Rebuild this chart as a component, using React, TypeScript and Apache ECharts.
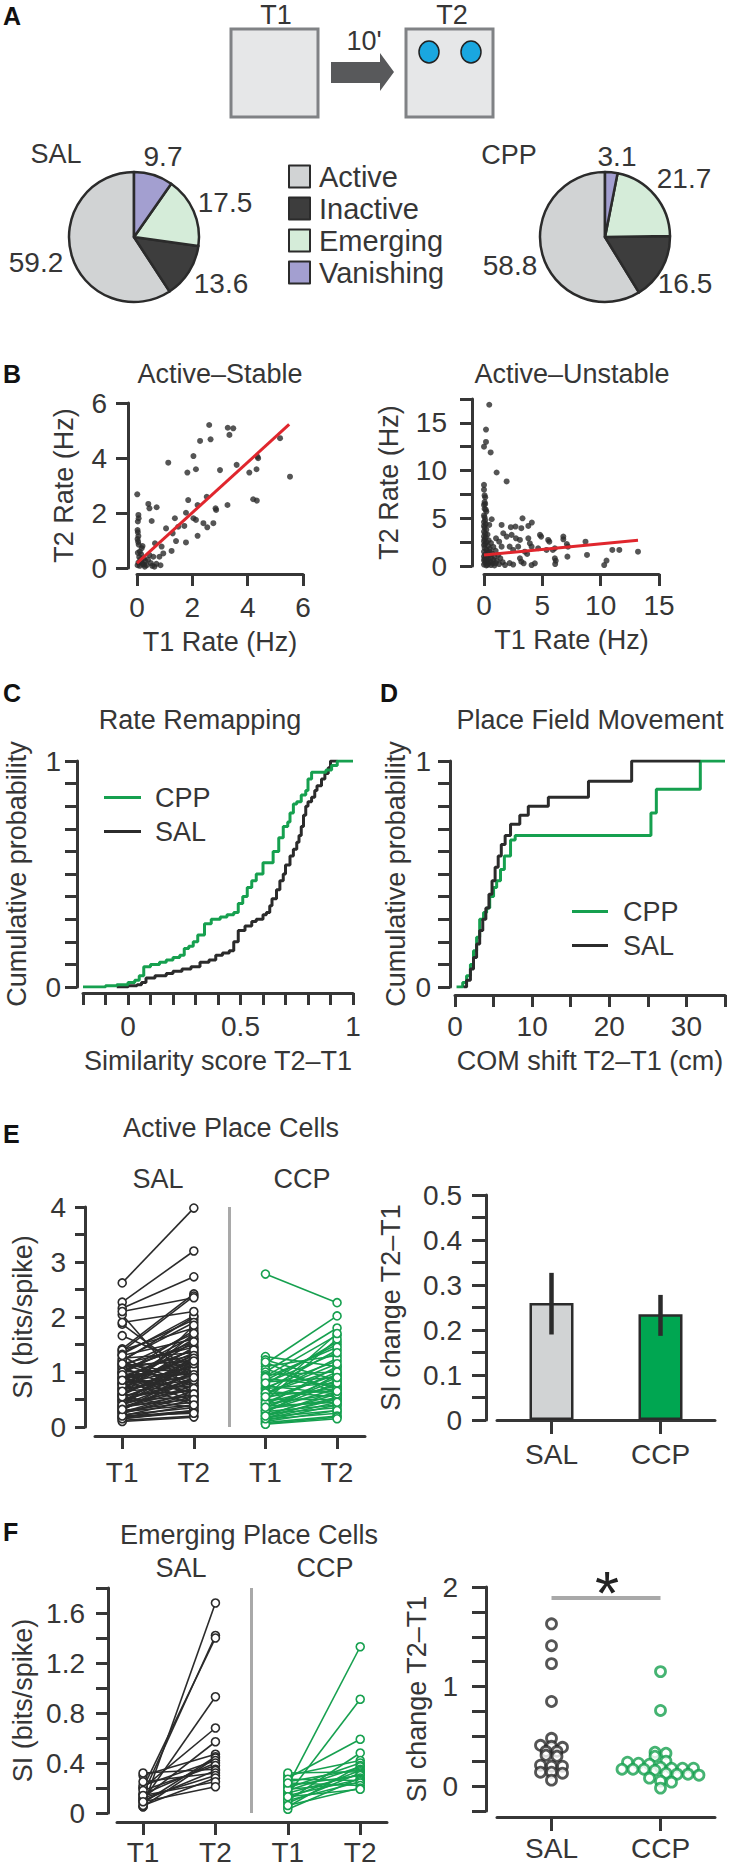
import { useEffect, useRef } from 'react';
import * as echarts from 'echarts';

// ---------------- Data ----------------
const pieCategories = ['Active', 'Inactive', 'Emerging', 'Vanishing'];
const pieColors = ['#d1d3d4', '#3d3d3d', '#d5ecd9', '#a39fd0'];
const pieSAL = [59.2, 13.6, 17.5, 9.7];
const pieCPP = [58.8, 16.5, 21.7, 3.1];

const stableT1 = [2.61,3.28,3.48,3.34,2.66,2.28,5.17,1.13,2.04,1.82,2.13,3.0,3.6,4.06,4.32,4.35,4.38,5.53,0.01,0.41,0.45,0.71,1.85,2.52,2.19,2.84,2.86,3.27,4.2,4.33,0.05,0.06,0.03,0.53,1.37,1.77,2.04,2.13,2.4,2.54,2.76,1.71,1.49,1.05,1.29,2.19,0.02,0.03,0.05,1.41,1.77,0.65,0.89,0.2,0.17,0.95,0.81,1.25,0.45,0.59,0.63,0.02,0.04,0.06,0.1,0.03,0.15,0.08,0.25,0.12,0.3,0.05,0.2,0.35,0.1,0.5,0.4,0.7,0.02,0.28,0.15,0.25,0.55,0.85];
const stableT2 = [5.2,5.1,5.08,4.84,4.68,4.62,4.72,3.83,4.07,3.47,3.59,3.56,3.75,3.47,3.59,4.05,3.99,3.32,2.68,2.33,2.17,2.21,2.47,2.59,2.29,2.17,2.11,2.29,2.5,2.45,1.93,1.81,1.69,1.71,1.81,2.01,1.81,1.75,1.63,1.48,1.63,1.53,1.5,1.44,1.26,1.17,1.38,1.3,1.16,0.98,0.93,0.9,0.78,0.8,0.72,0.53,0.41,0.62,0.47,0.41,0.05,1.05,0.95,0.85,0.6,0.55,0.5,0.4,0.35,0.3,0.25,0.2,0.15,0.1,0.08,0.18,0.3,0.15,0.1,0.05,0.22,0.12,0.08,0.1];
const stableFitT1 = [0, 5.5];
const stableFitT2 = [0.18, 5.22];

const unstableT1 = [0.45,0.17,0.17,0,0.57,1.08,1.94,0,0,0.05,0.1,0.05,0.1,0,0.05,0.15,0.2,0.66,0.45,1.51,2.3,2.7,3.2,3.3,3.8,4.1,1.65,1.94,2.37,1.03,1.3,2.74,3.08,3.8,4.8,4.9,5.5,5.6,6.8,6.8,8.7,7.2,7.1,6.07,5.9,4.64,5.36,3.93,4.08,2.93,3.5,3.7,2.2,2.5,1.51,6.07,6.15,7.15,8.83,10.5,11.0,11.6,13.2,4.36,4.08,3.08,3.2,3.4,10.3,6.1,0,0.05,0.1,0,0.15,0,0.05,0.2,0,0.1,0.3,0,0.15,0.05,0.4,0,0.2,0.6,0.1,0,0.35,0.8,0.05,0.5,0.2,1.0,0,0.3,0.7,0.1,1.2,0.45,0,0.9,0.2,0.6,1.4,0.05,0.35,0.8,0,1.1,0.25,0.55,1.6,0.1,0.75,0.4,1.3,0,0.6,0.2,1.8,0.9,2.2,2.5,1.0,0.3,0.15,0.5];
const unstableT2 = [16.9,14.3,13.0,12.5,11.9,9.8,8.86,8.5,8.0,7.4,7.2,6.7,6.5,6.4,6.0,5.9,5.7,4.9,4.3,4.3,4.07,4.13,3.96,5.0,4.2,4.55,3.43,3.08,3.26,2.9,2.55,2.9,2.73,2.9,3.26,3.08,2.73,2.55,3.08,2.8,2.55,2.03,2.3,1.86,1.68,1.86,1.68,2.38,2.03,2.03,1.5,1.26,2.03,1.68,2.03,0.8,0.55,0.98,1.16,0.56,1.68,1.68,1.5,0.28,0.1,0.8,0.45,0.28,0.1,0.2,5.3,5.1,4.8,4.6,4.4,4.2,4.0,3.8,3.6,3.4,3.3,3.1,3.0,2.8,2.7,2.6,2.5,2.4,2.3,2.2,2.1,2.0,1.9,1.8,1.7,1.6,1.5,1.4,1.3,1.2,1.15,1.1,1.0,0.95,0.9,0.85,0.8,0.75,0.7,0.65,0.6,0.55,0.5,0.45,0.4,0.35,0.3,0.25,0.2,0.15,0.1,0.05,0.1,0.05,0.3,0.15,0.3,0.12,0.6,1.5];
const unstableFitT1 = [0, 13.2];
const unstableFitT2 = [1.15, 2.7];

// C: rate remapping CDFs
const rateCppX = [-0.2,-0.1,-0.05,0.0,0.03,0.05,0.07,0.1,0.14,0.17,0.2,0.23,0.25,0.27,0.29,0.31,0.34,0.37,0.41,0.44,0.47,0.49,0.51,0.53,0.55,0.57,0.6,0.62,0.645,0.67,0.69,0.71,0.72,0.735,0.75,0.77,0.79,0.8,0.816,0.84,0.88,0.905,0.93,1.0];
const rateCppP = [0,0.005,0.01,0.02,0.03,0.05,0.09,0.1,0.11,0.12,0.13,0.14,0.17,0.18,0.2,0.23,0.28,0.3,0.31,0.32,0.33,0.37,0.4,0.44,0.47,0.5,0.55,0.55,0.6,0.66,0.71,0.73,0.77,0.81,0.82,0.85,0.87,0.92,0.95,0.95,0.96,0.98,1.0,1.0];
const rateSalX = [-0.05,0.0,0.04,0.06,0.08,0.12,0.17,0.2,0.24,0.28,0.32,0.36,0.39,0.42,0.45,0.47,0.49,0.52,0.55,0.57,0.6,0.615,0.63,0.64,0.66,0.675,0.69,0.7,0.72,0.735,0.75,0.76,0.77,0.78,0.79,0.8,0.816,0.83,0.84,0.86,0.875,0.89,0.9,0.93];
const rateSalP = [0,0.005,0.01,0.02,0.04,0.05,0.06,0.07,0.08,0.09,0.11,0.12,0.14,0.15,0.16,0.2,0.25,0.27,0.29,0.3,0.32,0.33,0.36,0.39,0.43,0.47,0.5,0.54,0.58,0.61,0.64,0.67,0.71,0.76,0.8,0.82,0.84,0.87,0.89,0.92,0.945,0.97,1.0,1.0];

// D: place field movement CDFs
const comCppX = [0.2,1.0,1.5,2.0,2.4,2.8,3.2,3.7,4.1,4.5,5.0,5.4,5.9,6.4,7.2,7.8,25.4,26.1,31.8,35];
const comCppP = [0,0.02,0.05,0.1,0.16,0.22,0.3,0.33,0.35,0.4,0.44,0.47,0.52,0.58,0.65,0.67,0.77,0.875,1.0,1.0];
const comSalX = [1.1,1.5,2.0,2.4,2.8,3.2,3.6,4.0,4.4,4.8,5.2,5.6,6.0,6.5,7.2,8.4,9.5,12.1,17.3,22.9,31.8];
const comSalP = [0,0.03,0.08,0.13,0.19,0.25,0.3,0.35,0.41,0.47,0.53,0.58,0.63,0.67,0.72,0.76,0.8,0.84,0.91,1.0,1.0];

// E: active place cells, SI T1 -> T2
const activeSalT1 = [2.62,2.27,2.16,2.04,1.87,1.66,1.42,1.38,1.35,1.3,1.25,1.2,1.18,1.15,1.12,1.1,1.08,1.05,1.02,1.0,0.98,0.95,0.92,0.9,0.88,0.85,0.82,0.8,0.78,0.75,0.72,0.7,0.68,0.65,0.62,0.6,0.58,0.55,0.52,0.5,0.48,0.45,0.42,0.4,0.38,0.35,0.33,0.3,0.28,0.25,0.22,0.2,0.18,0.15,0.12,0.1,1.4,1.32,1.22,1.14,1.06,0.97,0.87,0.77,0.67,0.57,0.47,0.37,0.27,0.17,2.1,1.9,0.55,0.3,0.9,0.7,0.5,0.35,0.25,1.0,0.8,0.6,0.45,0.15,1.15,0.95,0.75,0.55,0.4,0.2,1.3,0.65,0.85,0.32];
const activeSalT2 = [3.98,3.2,2.73,0.55,0.9,1.1,2.42,2.38,1.95,1.6,1.35,2.0,0.8,1.45,1.2,1.7,0.6,1.3,1.55,1.05,1.75,0.95,1.4,1.15,0.7,1.25,1.6,0.9,1.1,1.0,1.3,0.85,1.45,0.75,1.05,1.2,0.65,0.95,1.1,0.8,0.55,1.0,0.7,0.9,0.5,0.6,0.85,0.45,0.4,0.55,0.35,0.5,0.3,0.28,0.2,0.18,1.8,2.02,1.9,0.75,1.5,1.65,1.2,1.35,0.95,1.25,1.15,0.75,0.65,0.4,2.35,2.1,1.85,1.02,1.4,1.05,0.85,0.7,0.6,0.45,1.3,1.15,1.25,0.3,0.95,0.6,1.55,0.35,1.2,0.25,0.5,1.7,0.4,0.9];
const activeCcpT1 = [2.78,1.28,1.22,1.15,1.1,1.05,1.0,0.95,0.92,0.88,0.85,0.82,0.78,0.75,0.72,0.7,0.68,0.65,0.62,0.6,0.58,0.55,0.52,0.5,0.48,0.45,0.42,0.4,0.38,0.35,0.33,0.3,0.28,0.26,0.24,0.22,0.2,0.18,0.16,0.14,0.12,0.1,0.08,0.06,0.05,0.9,0.62,0.44,0.3,0.15,1.18,0.8,0.55,0.36,0.2];
const activeCcpT2 = [2.26,1.1,0.85,2.02,1.3,0.7,1.8,1.0,1.67,0.75,1.5,0.9,1.55,0.6,1.2,0.8,1.4,0.55,1.05,0.65,1.25,0.7,0.95,0.5,1.6,0.75,0.6,1.1,0.45,0.85,0.5,0.7,0.4,0.95,0.35,0.6,0.5,0.3,0.55,0.25,0.4,0.3,0.2,0.18,0.15,1.45,1.15,1.0,0.8,0.45,0.6,1.35,1.7,0.9,0.65];

const groups = ['SAL', 'CCP'];
const siChangeMean = [0.26, 0.235];
const siChangeLow = [0.19, 0.187];
const siChangeHigh = [0.327, 0.278];

// F: emerging place cells
const emergSalT1 = [0.05,0.15,0.2,0.1,0.2,0.12,0.3,0.08,0.05,0.22,0.15,0.18,0.32,0.1,0.25,0.12,0.06,0.14,0.09];
const emergSalT2 = [1.68,1.42,1.4,0.93,0.68,0.57,0.47,0.45,0.44,0.42,0.4,0.38,0.35,0.34,0.32,0.3,0.28,0.25,0.21];
const emergCcpT1 = [0.22,0.15,0.28,0.1,0.3,0.2,0.05,0.18,0.25,0.12,0.32,0.08,0.16,0.22,0.03,0.14,0.27,0.1,0.19,0.24,0.06,0.13];
const emergCcpT2 = [1.33,0.91,0.59,0.48,0.42,0.4,0.38,0.37,0.35,0.34,0.33,0.32,0.31,0.3,0.28,0.27,0.26,0.25,0.24,0.22,0.2,0.19];
const emergChangeSal = [1.63,1.41,1.23,0.85,0.48,0.41,0.4,0.39,0.35,0.35,0.31,0.3,0.21,0.2,0.2,0.14,0.14,0.13,0.06];
const emergChangeCcp = [1.15,0.76,0.34,0.33,0.3,0.25,0.24,0.23,0.22,0.19,0.18,0.18,0.18,0.17,0.17,0.17,0.16,0.13,0.12,0.12,0.11,0.08,0.05,0.04,-0.02];
const sigLevel = 1.89;

// ---------------- Styles ----------------
const FONT = '"Liberation Sans", Arial, Helvetica, sans-serif';
const TXT = '#363636';
const AX = '#363636';
const DARK = '#2b2b2b';
const GREEN = '#16a04f';
const RED = '#e0262d';

const fmtStep = (step: number) => (v: number) => {
  const r = v / step;
  return Math.abs(r - Math.round(r)) < 1e-6 ? String(parseFloat(Number(v).toFixed(2))) : '';
};

// binned dot-plot: points whose values fall in the same bin are spread symmetrically in a row
function binnedOffsets(vals: number[], bin: number, step: number): number[] {
  const rows = new Map<number, number[]>();
  vals.forEach((v, i) => {
    const b = Math.round(v / bin);
    if (!rows.has(b)) rows.set(b, []);
    rows.get(b)!.push(i);
  });
  const out = new Array(vals.length).fill(0);
  rows.forEach((idx) => idx.forEach((i, j) => { out[i] = (j - (idx.length - 1) / 2) * step; }));
  return out;
}

function axis(gi: number, extra: any) {
  const base: any = {
    gridIndex: gi,
    axisLine: { show: true, onZero: false, lineStyle: { color: AX, width: 3 } },
    axisTick: { show: true, length: 12, lineStyle: { color: AX, width: 3 } },
    axisLabel: { color: TXT, fontSize: 28, fontFamily: FONT, margin: 18 },
    splitLine: { show: false },
    nameLocation: 'middle',
    nameTextStyle: { color: TXT, fontSize: 27, fontFamily: FONT },
  };
  const out: any = { ...base, ...extra };
  if (extra.axisLabel) out.axisLabel = { ...base.axisLabel, ...extra.axisLabel };
  if (extra.axisTick) out.axisTick = { ...base.axisTick, ...extra.axisTick };
  return out;
}

const txt = (text: string, x: number, y: number, o: any = {}) => ({
  type: 'text', x, y, silent: true,
  style: { text, fill: TXT, fontSize: 27, fontFamily: FONT, align: 'center', verticalAlign: 'middle', ...o },
});
const letter = (text: string, x: number, y: number) => txt(text, x, y, { fontSize: 25, fontWeight: 'bold', fill: '#111', align: 'left' });

function pairSeries(t1: number[], t2: number[], x0: number, gi: number, color: string, sep: boolean) {
  return t1.map((a, i) => {
    const s: any = {
      type: 'line', xAxisIndex: gi, yAxisIndex: gi, data: [[x0, a], [x0 + 1, t2[i]]],
      symbol: 'circle', symbolSize: 8, showSymbol: true, silent: true,
      lineStyle: { color, width: 1.6 }, itemStyle: { color: '#fff', borderColor: color, borderWidth: 1.6 },
    };
    if (sep && i === 0) {
      s.markLine = {
        silent: true, symbol: ['none', 'none'], label: { show: false },
        lineStyle: { color: '#a9a9a9', width: 3, type: 'solid' }, data: [{ xAxis: 1.5 }],
      };
    }
    return s;
  });
}

export default function App() {
  const ref = useRef<HTMLDivElement>(null);
  useEffect(() => {
    document.body.style.margin = '0';
    const chart = echarts.init(ref.current!, null, { renderer: 'svg' });

    const gridDefs = [
      { left: 137, top: 403, width: 166, height: 165 },
      { left: 484, top: 399, width: 175, height: 167 },
      { left: 83, top: 761, width: 270, height: 226 },
      { left: 455, top: 761, width: 270, height: 226 },
      { left: 95, top: 1207, width: 270, height: 220 },
      { left: 497, top: 1195, width: 218, height: 225 },
      { left: 117, top: 1588, width: 270, height: 225 },
      { left: 497, top: 1587, width: 218, height: 224 },
    ].map((g) => ({ ...g, containLabel: false, outerBoundsMode: 'none' }));

    const tt = ['T1', 'T2', 'T1', 'T2'];
    const xAxis = [
      axis(0, { type: 'value', min: 0, max: 6, interval: 2, offset: 6, name: 'T1 Rate (Hz)', nameGap: 54, axisLabel: { margin: 19 } }),
      axis(1, { type: 'value', min: 0, max: 15, interval: 5, offset: 8, name: 'T1 Rate (Hz)', nameGap: 52, axisLabel: { margin: 17 } }),
      axis(2, { type: 'value', min: -0.2, max: 1, interval: 0.1, offset: 6, name: 'Similarity score T2–T1', nameGap: 54, axisLabel: { margin: 19, formatter: fmtStep(0.5) } }),
      axis(3, { type: 'value', min: 0, max: 35, interval: 5, offset: 8, name: 'COM shift T2–T1 (cm)', nameGap: 52, axisLabel: { margin: 17, formatter: fmtStep(10) } }),
      axis(4, { type: 'value', min: -0.38, max: 3.39, offset: 9, axisTick: { customValues: [0, 1, 2, 3], length: 13 }, axisLabel: { customValues: [0, 1, 2, 3], margin: 22, formatter: (v: number) => tt[Math.round(v)] } }),
      axis(5, { type: 'category', data: groups, offset: 0, axisTick: { alignWithLabel: true, length: 14 }, axisLabel: { margin: 20 } }),
      axis(6, { type: 'value', min: -0.36, max: 3.37, offset: 9, axisTick: { customValues: [0, 1, 2, 3], length: 13 }, axisLabel: { customValues: [0, 1, 2, 3], margin: 16, formatter: (v: number) => tt[Math.round(v)] } }),
      axis(7, { type: 'category', data: groups, offset: 6, axisTick: { alignWithLabel: true, length: 14 }, axisLabel: { margin: 17 } }),
    ];
    const yAxis = [
      axis(0, { type: 'value', min: 0, max: 6, interval: 2, offset: 9, name: 'T2 Rate (Hz)', nameGap: 51, axisLabel: { margin: 21 } }),
      axis(1, { type: 'value', min: 0, max: 17.5, interval: 2.5, offset: 12, name: 'T2 Rate (Hz)', nameGap: 70, axisLabel: { margin: 25, formatter: fmtStep(5) } }),
      axis(2, { type: 'value', min: 0, max: 1, interval: 0.1, offset: 6, name: 'Cumulative probability', nameGap: 47, axisLabel: { margin: 16, formatter: fmtStep(1) } }),
      axis(3, { type: 'value', min: 0, max: 1, interval: 0.1, offset: 5, name: 'Cumulative probability', nameGap: 41, axisLabel: { margin: 19, formatter: fmtStep(1) } }),
      axis(4, { type: 'value', min: 0, max: 4, interval: 0.5, offset: 10, name: 'SI (bits/spike)', nameGap: 49, axisTick: { length: 10 }, axisLabel: { margin: 19, formatter: fmtStep(1) } }),
      axis(5, { type: 'value', min: 0, max: 0.5, interval: 0.05, offset: 11, name: 'SI change T2–T1', nameGap: 82, axisTick: { length: 14 }, axisLabel: { margin: 24, formatter: fmtStep(0.1) } }),
      axis(6, { type: 'value', min: 0, max: 1.8, interval: 0.2, offset: 9, name: 'SI (bits/spike)', nameGap: 72, axisLabel: { margin: 23, formatter: fmtStep(0.4) } }),
      axis(7, { type: 'value', min: -0.25, max: 2, interval: 0.25, offset: 11, name: 'SI change T2–T1', nameGap: 56, axisTick: { length: 14 }, axisLabel: { margin: 28, formatter: fmtStep(1) } }),
    ];

    const pie = (vals: number[], cx: number) => ({
      type: 'pie', center: [cx, 237], radius: 65, startAngle: 90, clockwise: false, silent: true,
      label: { show: false }, labelLine: { show: false },
      itemStyle: { borderColor: DARK, borderWidth: 2.5 },
      data: pieCategories.map((n, i) => ({ name: n, value: vals[i], itemStyle: { color: pieColors[i] } })),
    });

    const cdf = (xs: number[], ps: number[], gi: number, name: string, color: string) => ({
      type: 'line', name, xAxisIndex: gi, yAxisIndex: gi, step: 'end', showSymbol: false, symbol: 'none', silent: true,
      lineStyle: { color, width: 3 }, itemStyle: { color },
      data: xs.map((x, i) => [x, ps[i]]),
    });

    const salOff = binnedOffsets(emergChangeSal, 0.07, 11);
    const ccpOff = binnedOffsets(emergChangeCcp, 0.07, 11);

    const series: any[] = [
      pie(pieSAL, 134),
      pie(pieCPP, 605),
      { type: 'scatter', xAxisIndex: 0, yAxisIndex: 0, symbolSize: 6, silent: true, itemStyle: { color: DARK },
        data: stableT1.map((x, i) => [x, stableT2[i]]) },
      { type: 'line', xAxisIndex: 0, yAxisIndex: 0, showSymbol: false, symbol: 'none', silent: true, lineStyle: { color: RED, width: 3 },
        data: stableFitT1.map((x, i) => [x, stableFitT2[i]]) },
      { type: 'scatter', xAxisIndex: 1, yAxisIndex: 1, symbolSize: 6, silent: true, itemStyle: { color: DARK },
        data: unstableT1.map((x, i) => [x, unstableT2[i]]) },
      { type: 'line', xAxisIndex: 1, yAxisIndex: 1, showSymbol: false, symbol: 'none', silent: true, lineStyle: { color: RED, width: 3 },
        data: unstableFitT1.map((x, i) => [x, unstableFitT2[i]]) },
      cdf(rateSalX, rateSalP, 2, 'SAL', DARK),
      cdf(rateCppX, rateCppP, 2, 'CPP', GREEN),
      cdf(comCppX, comCppP, 3, 'CPP', GREEN),
      cdf(comSalX, comSalP, 3, 'SAL', DARK),
      ...pairSeries(activeSalT1, activeSalT2, 0, 4, DARK, true),
      ...pairSeries(activeCcpT1, activeCcpT2, 2, 4, GREEN, false),
      { type: 'bar', xAxisIndex: 5, yAxisIndex: 5, barWidth: 44, silent: true,
        itemStyle: { borderColor: DARK, borderWidth: 2.5 },
        data: siChangeMean.map((v, i) => ({ value: v, itemStyle: { color: i === 0 ? '#d1d3d4' : '#00a651' } })) },
      { type: 'custom', xAxisIndex: 5, yAxisIndex: 5, silent: true, z: 5, encode: { x: 0, y: [1, 2] },
        data: siChangeLow.map((lo, i) => [i, lo, siChangeHigh[i]]),
        renderItem: (_p: any, api: any) => {
          const a = api.coord([api.value(0), api.value(1)]);
          const b = api.coord([api.value(0), api.value(2)]);
          return { type: 'line', shape: { x1: a[0], y1: a[1], x2: b[0], y2: b[1] }, style: { stroke: DARK, lineWidth: 4.5 } };
        } },
      ...pairSeries(emergSalT1, emergSalT2, 0, 6, DARK, true),
      ...pairSeries(emergCcpT1, emergCcpT2, 2, 6, GREEN, false),
      { type: 'scatter', xAxisIndex: 7, yAxisIndex: 7, symbol: 'circle', symbolSize: 10, silent: true, z: 4,
        itemStyle: { color: '#fff', borderColor: DARK, borderWidth: 2.8 },
        data: emergChangeSal.map((v, i) => ({ value: [0, v], symbolOffset: [salOff[i], 0] })),
        markLine: { silent: true, symbol: ['none', 'none'], lineStyle: { color: '#a9a9a9', width: 4, type: 'solid' },
          label: { show: false }, data: [[{ coord: [0, sigLevel] }, { coord: [1, sigLevel] }]] } },
      { type: 'scatter', xAxisIndex: 7, yAxisIndex: 7, symbol: 'circle', symbolSize: 10, silent: true, z: 4,
        itemStyle: { color: '#fff', borderColor: GREEN, borderWidth: 2.8 },
        data: emergChangeCcp.map((v, i) => ({ value: [1, v], symbolOffset: [ccpOff[i], 0] })) },
    ];

    const legendText = { color: TXT, fontSize: 27, fontFamily: FONT };
    const legend = [
      { data: pieCategories, left: 283, top: 157, orient: 'vertical', icon: 'rect', itemWidth: 21, itemHeight: 22, itemGap: 3,
        selectedMode: false, itemStyle: { borderColor: DARK, borderWidth: 2 },
        textStyle: { ...legendText, fontSize: 29, padding: [0, 0, 0, 4] } },
      { data: ['CPP', 'SAL'], left: 99, top: 779, orient: 'vertical', icon: 'rect', itemWidth: 37, itemHeight: 3, itemGap: 7,
        selectedMode: false, textStyle: { ...legendText, padding: [0, 0, 0, 9] } },
      { data: ['CPP', 'SAL'], left: 567, top: 893, orient: 'vertical', icon: 'rect', itemWidth: 36, itemHeight: 3, itemGap: 7,
        selectedMode: false, textStyle: { ...legendText, padding: [0, 0, 0, 10] } },
    ];

    const pieLabelPosSAL = [[36, 262], [221, 283], [225, 202], [163, 156]];
    const pieLabelPosCPP = [[510, 265], [685, 283], [684, 178], [617, 156]];

    const graphic: any[] = [
      letter('A', 3, 16), letter('B', 3, 374), letter('C', 3, 693), letter('D', 380, 693), letter('E', 3, 1134), letter('F', 3, 1532),
      { type: 'rect', silent: true, shape: { x: 231, y: 29, width: 87, height: 88 }, style: { fill: '#e6e7e8', stroke: '#808285', lineWidth: 3 } },
      { type: 'rect', silent: true, shape: { x: 406, y: 29, width: 87, height: 88 }, style: { fill: '#e6e7e8', stroke: '#808285', lineWidth: 3 } },
      { type: 'polygon', silent: true, shape: { points: [[331, 62], [380, 62], [380, 53], [394, 72], [380, 91], [380, 83], [331, 83]] }, style: { fill: '#58595b' } },
      { type: 'ellipse', silent: true, shape: { cx: 429, cy: 52, rx: 10, ry: 11 }, style: { fill: '#1aa7e0', stroke: '#222', lineWidth: 1.5 } },
      { type: 'ellipse', silent: true, shape: { cx: 471, cy: 52, rx: 10, ry: 11 }, style: { fill: '#1aa7e0', stroke: '#222', lineWidth: 1.5 } },
      txt('T1', 276, 15), txt('T2', 452, 15), txt("10'", 364, 41),
      txt('SAL', 56, 154), txt('CPP', 509, 155),
      ...pieSAL.map((v, i) => txt(String(v), pieLabelPosSAL[i][0], pieLabelPosSAL[i][1], { fontSize: 28 })),
      ...pieCPP.map((v, i) => txt(String(v), pieLabelPosCPP[i][0], pieLabelPosCPP[i][1], { fontSize: 28 })),
      txt('Active–Stable', 220, 374), txt('Active–Unstable', 572, 374),
      txt('Rate Remapping', 200, 720), txt('Place Field Movement', 590, 720),
      txt('Active Place Cells', 231, 1128), txt('SAL', 158, 1179), txt('CCP', 302, 1179),
      txt('Emerging Place Cells', 249, 1535), txt('SAL', 181, 1568), txt('CCP', 325, 1568),
      txt('*', 607, 1592, { fontSize: 62, fill: '#222' }),
    ];

    chart.setOption({
      animation: false,
      textStyle: { fontFamily: FONT },
      grid: gridDefs,
      xAxis, yAxis, legend, graphic, series,
    });
    return () => chart.dispose();
  }, []);
  return <div ref={ref} style={{ width: 731, height: 1871 }} />;
}
